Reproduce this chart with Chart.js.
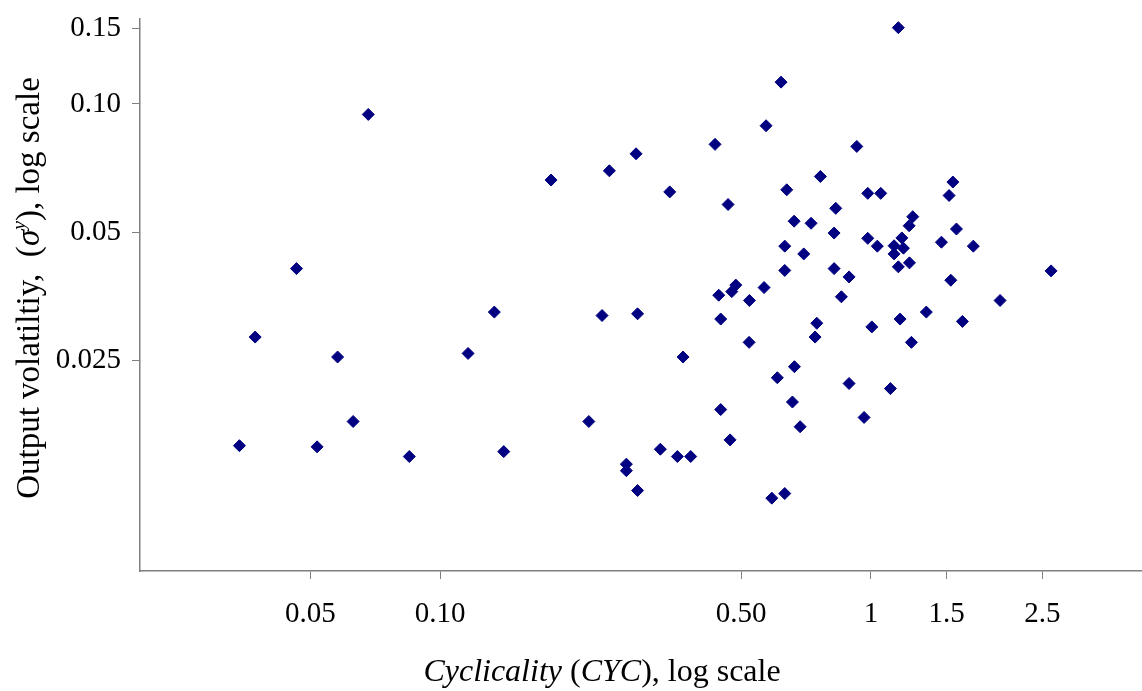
<!DOCTYPE html>
<html>
<head>
<meta charset="utf-8">
<script src="https://cdn.jsdelivr.net/npm/chart.js@4/dist/chart.umd.min.js"></script>
<style>
  html, body { margin: 0; padding: 0; background: #fff; }
  #wrap { position: relative; width: 1142px; height: 691px; overflow: hidden; }
  #chart { position: absolute; left: 0; top: 0; }
  .axis-title {
    position: absolute;
    font-family: "Liberation Serif", "Times New Roman", serif;
    color: #000;
    white-space: nowrap;
    text-align: center;
  }
  #yTitle { font-size: 33px; line-height: 36px; left: -202px; top: 270px; width: 460px; transform: rotate(-90deg); }
  #xTitle { font-size: 32px; line-height: 36px; left: 302px; top: 652px; width: 600px; }
  sup { font-size: 60%; vertical-align: 0.7em; line-height: 0; }
</style>
</head>
<body>
<div id="wrap">
  <canvas id="chart" width="1142" height="691"></canvas>
  <div class="axis-title" id="yTitle">Output volatiltiy,&nbsp; (<i>σ</i><sup><i>y</i></sup>), log scale</div>
  <div class="axis-title" id="xTitle"><i>Cyclicality</i> (<i>CYC</i>), log scale</div>
</div>
<script>
// ===== DATA =====
// cyclicality (x) and output volatility (y)
const cyc = [
  0.0681, 0.1809, 0.2471, 0.2850, 0.0464, 0.0372, 0.0578, 0.1336, 0.1161, 0.2376,
  0.2873, 0.0628, 0.0342, 0.0518, 0.0848, 0.1405, 0.2214, 0.2706, 0.2706, 0.2873,
  1.158, 0.6186, 0.5710, 0.4347, 0.9274, 0.7634, 1.550, 0.3412, 0.6377, 0.9835,
  1.054, 1.519, 0.4661, 0.8288, 1.251, 1.227, 0.6634, 0.7264, 0.8215, 1.580,
  0.9835, 1.180, 1.035, 1.132, 1.190, 1.132, 1.458, 1.729, 0.6310, 0.6985,
  1.229, 1.158, 0.6310, 0.8215, 0.8899, 1.533, 2.620, 0.4857, 0.4754, 0.4434,
  0.5650, 0.5224, 0.8541, 1.995, 0.4481, 0.7489, 0.7421, 1.005, 1.169, 1.345,
  1.631, 1.242, 0.5215, 0.3664, 0.6645, 0.6065, 0.8899, 1.110, 0.4481, 0.6574,
  0.9643, 0.6851, 0.4711, 0.3245, 0.3554, 0.3817, 0.5888, 0.6310
];
const vol = [
  0.0945, 0.0663, 0.0697, 0.0764, 0.0411, 0.0284, 0.0255, 0.0325, 0.0260, 0.0319,
  0.0322, 0.0180, 0.0158, 0.0157, 0.0149, 0.0153, 0.0180, 0.0143, 0.0138, 0.0124,
  0.1510, 0.1125, 0.0889, 0.0804, 0.0795, 0.0676, 0.0656, 0.0622, 0.0629, 0.0617,
  0.0617, 0.0610, 0.0581, 0.0569, 0.0544, 0.0518, 0.0531, 0.0525, 0.0498, 0.0509,
  0.0484, 0.0485, 0.0464, 0.0465, 0.0459, 0.0445, 0.0474, 0.0464, 0.0464, 0.0445,
  0.0424, 0.0415, 0.0407, 0.0411, 0.0393, 0.0386, 0.0406, 0.0376, 0.0363, 0.0356,
  0.0371, 0.0346, 0.0353, 0.0346, 0.0313, 0.0306, 0.0284, 0.0300, 0.0313, 0.0325,
  0.0309, 0.0276, 0.0276, 0.0255, 0.0242, 0.0228, 0.0221, 0.0215, 0.0192, 0.0200,
  0.0184, 0.0175, 0.0163, 0.0155, 0.0149, 0.0149, 0.0119, 0.0122
];

// ticks
const xTickValues = [0.05, 0.1, 0.5, 1, 1.5, 2.5];
const xTickLabels = ['0.05', '0.10', '0.50', '1', '1.5', '2.5'];
const yTickValues = [0.025, 0.05, 0.1, 0.15];
const yTickLabels = ['0.025', '0.05', '0.10', '0.15'];

// axis ranges
const xMin = 0.0201, xMax = 4.26;
const yMin = 0.00803, yMax = 0.1582;

// ===== CHART =====
const points = cyc.map((x, i) => ({ x, y: vol[i] }));
const tickFont = { family: '"Liberation Serif", "Times New Roman", serif', size: 29 };
const axisGray = '#7f7f7f';

// no extra room for edge labels: the plot runs to the canvas edge
function noPadding(s) {
  s.paddingTop = 0; s.paddingBottom = 0; s.paddingLeft = 0; s.paddingRight = 0;
}

new Chart(document.getElementById('chart'), {
  type: 'scatter',
  data: {
    datasets: [{
      data: points,
      pointStyle: 'rectRot',
      pointRadius: 6,
      pointBackgroundColor: '#000080',
      pointBorderColor: '#000080',
      pointBorderWidth: 1,
    }]
  },
  options: {
    responsive: false,
    animation: false,
    layout: { autoPadding: false, padding: { top: 19, right: 0, bottom: 0, left: 0 } },
    plugins: { legend: { display: false }, tooltip: { enabled: false } },
    scales: {
      x: {
        type: 'logarithmic',
        position: 'bottom',
        min: xMin,
        max: xMax,
        afterBuildTicks: s => { s.ticks = xTickValues.map(v => ({ value: v })); },
        afterFit: s => { s.height = 120; noPadding(s); },
        ticks: {
          autoSkip: false, maxRotation: 0, color: '#000', font: tickFont, padding: 18,
          callback: v => xTickLabels[xTickValues.indexOf(v)]
        },
        grid: { drawOnChartArea: false, drawTicks: true, tickLength: 8, color: axisGray, lineWidth: 1 },
        border: { color: axisGray, width: 1.5 },
      },
      y: {
        type: 'logarithmic',
        min: yMin,
        max: yMax,
        afterBuildTicks: s => { s.ticks = yTickValues.map(v => ({ value: v })); },
        afterFit: s => { s.width = 140; noPadding(s); },
        ticks: {
          autoSkip: false, color: '#000', font: tickFont, padding: 11,
          callback: v => yTickLabels[yTickValues.indexOf(v)]
        },
        grid: { drawOnChartArea: false, drawTicks: true, tickLength: 8, color: axisGray, lineWidth: 1 },
        border: { color: axisGray, width: 1.5 },
      }
    }
  }
});
</script>
</body>
</html>
